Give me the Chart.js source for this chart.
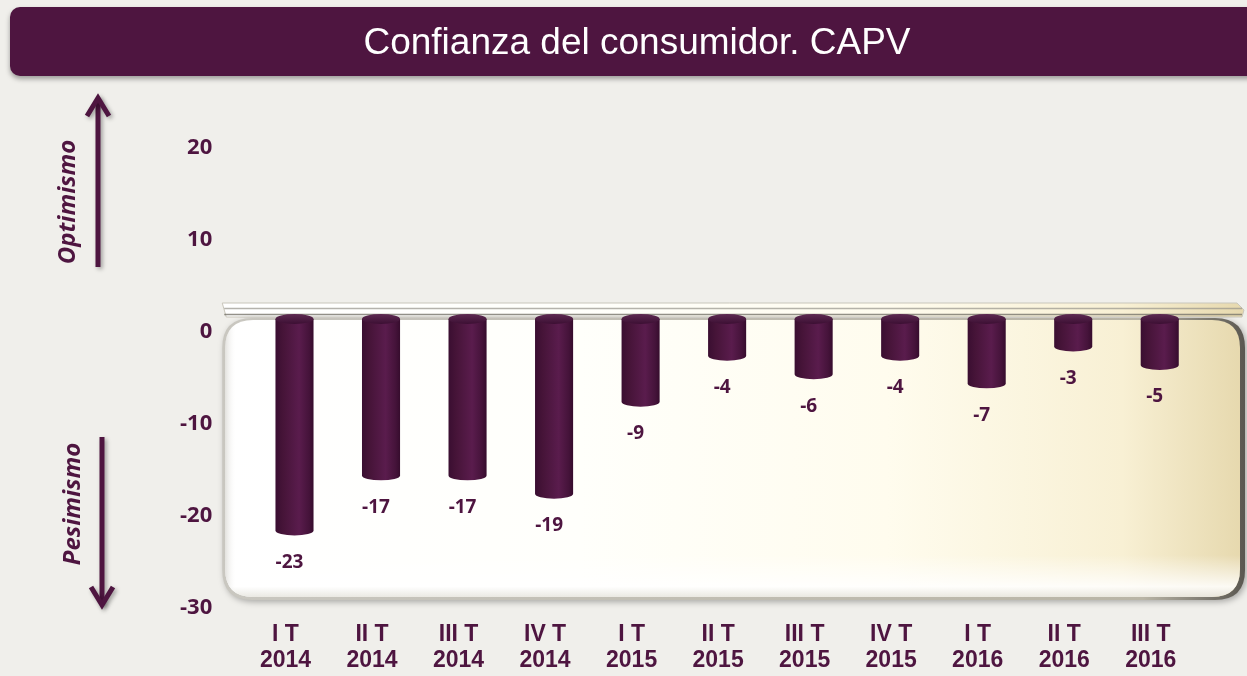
<!DOCTYPE html>
<html>
<head>
<meta charset="utf-8">
<script src="https://cdn.jsdelivr.net/npm/chart.js@4"></script>
<style>
  html, body { margin: 0; padding: 0; background: #f0efeb; overflow: hidden; }
  #wrap { position: relative; width: 1247px; height: 676px; }
  #title {
    position: absolute; left: 10px; top: 7px; width: 1254px; height: 69px;
    background: #4e1540; border-radius: 10px;
    box-shadow: 0 3px 5px rgba(0,0,0,0.35);
    color: #fff; font-family: "Liberation Sans", Arial, sans-serif; font-size: 37px;
    line-height: 69px; text-align: center;
  }
  canvas { position: absolute; left: 0; top: 0; }
</style>
</head>
<body>
<div id="wrap">
  <canvas id="myChart" width="1247" height="676"></canvas>
  <div id="title">Confianza del consumidor. CAPV</div>
</div>
<script>
// Data
const quarters = ['I T', 'II T', 'III T', 'IV T', 'I T', 'II T', 'III T', 'IV T', 'I T', 'II T', 'III T'];
const years = ['2014', '2014', '2014', '2014', '2015', '2015', '2015', '2015', '2016', '2016', '2016'];
const confidence = [-23, -17, -17, -19, -9, -4, -6, -4, -7, -3, -5];
const yTicks = [20, 10, 0, -10, -20, -30];

const purple = '#4e1540';
const labels = quarters.map((q, i) => [q, years[i]]);

// 3D look: bars sit a bit right and up from the axis
const shiftX = 9, shiftY = -13;

function roundRect(ctx, x, y, w, h, r) {
    ctx.beginPath();
    ctx.moveTo(x + r, y);
    ctx.lineTo(x + w - r, y);
    ctx.quadraticCurveTo(x + w, y, x + w, y + r);
    ctx.lineTo(x + w, y + h - r);
    ctx.quadraticCurveTo(x + w, y + h, x + w - r, y + h);
    ctx.lineTo(x + r, y + h);
    ctx.quadraticCurveTo(x, y + h, x, y + h - r);
    ctx.lineTo(x, y + r);
    ctx.quadraticCurveTo(x, y, x + r, y);
    ctx.closePath();
}

function panelGradient(ctx, left, right) {
    const g = ctx.createLinearGradient(left, 0, right, 0);
    g.addColorStop(0, '#ffffff');
    g.addColorStop(0.35, '#fffffb');
    g.addColorStop(0.65, '#fffcee');
    g.addColorStop(0.88, '#f8f0d4');
    g.addColorStop(1, '#e6d8ad');
    return g;
}

function drawArrow(ctx, x, yFrom, yTo) {
    const dir = yTo < yFrom ? -1 : 1;
    ctx.save();
    ctx.strokeStyle = purple;
    ctx.lineWidth = 5;
    ctx.shadowColor = 'rgba(0,0,0,0.35)';
    ctx.shadowBlur = 4;
    ctx.shadowOffsetX = 2;
    ctx.shadowOffsetY = 2;
    ctx.beginPath();
    ctx.moveTo(x, yFrom);
    ctx.lineTo(x, yTo - dir * 2);
    ctx.stroke();
    ctx.beginPath();
    ctx.moveTo(x - 11, yTo - dir * 20);
    ctx.lineTo(x, yTo - dir * 2);
    ctx.lineTo(x + 11, yTo - dir * 20);
    ctx.stroke();
    ctx.restore();
}

function drawSideWord(ctx, text, x, y) {
    ctx.save();
    ctx.translate(x, y);
    ctx.rotate(-Math.PI / 2);
    ctx.fillStyle = purple;
    ctx.font = 'italic 700 24px "Open Sans"';
    ctx.textAlign = 'center';
    ctx.textBaseline = 'middle';
    ctx.fillText(text, 0, 0);
    ctx.restore();
}

const decor = {
    id: 'decor',
    beforeDraw(chart) {
        const { ctx, chartArea, scales } = chart;
        const y0 = scales.y.getPixelForValue(0);
        ctx.save();
        ctx.fillStyle = '#f0efeb';
        ctx.fillRect(0, 0, chart.width, chart.height);

        // side arrows and words
        drawArrow(ctx, 98, 267, 96);
        drawSideWord(ctx, 'Optimismo', 68, 202);
        drawArrow(ctx, 102, 437, 607);
        drawSideWord(ctx, 'Pesimismo', 73, 504);

        // panel behind the bars
        const left = chartArea.left - 20, right = chartArea.right + 51;
        const top = y0 - 14, bottom = chartArea.bottom - 8;

        // top rim
        ctx.beginPath();
        ctx.moveTo(left, y0 - 29);
        ctx.lineTo(right - 8, y0 - 29);
        ctx.lineTo(right - 1, y0 - 22);
        ctx.lineTo(right - 3, y0 - 15);
        ctx.lineTo(left + 4, y0 - 15);
        ctx.closePath();
        ctx.fillStyle = panelGradient(ctx, left, right);
        ctx.fill();
        ctx.strokeStyle = '#c9c6bb';
        ctx.lineWidth = 1;
        ctx.stroke();
        [[y0 - 23.5, 'rgba(150,147,138,0.7)'], [y0 - 17.5, 'rgba(120,117,108,0.8)']].forEach(([yy, c]) => {
            ctx.beginPath();
            ctx.moveTo(left + 2, yy);
            ctx.lineTo(right - 3, yy);
            ctx.strokeStyle = c;
            ctx.lineWidth = 1.5;
            ctx.stroke();
        });

        // box with shadow
        ctx.save();
        ctx.shadowColor = 'rgba(0,0,0,0.3)';
        ctx.shadowBlur = 6;
        ctx.shadowOffsetX = 2;
        ctx.shadowOffsetY = 2;
        roundRect(ctx, left, top, right - left, bottom - top, 30);
        const ge = ctx.createLinearGradient(left, 0, right, 0);
        ge.addColorStop(0, '#c9c7c0');
        ge.addColorStop(0.9, '#b9b5a6');
        ge.addColorStop(1, '#5a5750');
        ctx.fillStyle = ge;
        ctx.fill();
        ctx.restore();

        roundRect(ctx, left + 3, top + 2, right - left - 8, bottom - top - 5, 28);
        ctx.fillStyle = panelGradient(ctx, left, right);
        ctx.fill();

        // soft bright band near the bottom
        const gv = ctx.createLinearGradient(0, bottom - 45, 0, bottom);
        gv.addColorStop(0, 'rgba(255,255,255,0)');
        gv.addColorStop(0.7, 'rgba(255,255,255,0.85)');
        gv.addColorStop(1, 'rgba(225,223,214,0.9)');
        ctx.fillStyle = gv;
        ctx.fill();

        // inner left edge shade
        const gl = ctx.createLinearGradient(left, 0, left + 14, 0);
        gl.addColorStop(0, 'rgba(205,203,196,0.9)');
        gl.addColorStop(1, 'rgba(255,255,255,0)');
        ctx.fillStyle = gl;
        ctx.fill();
        ctx.restore();
    },
    afterDatasetsDraw(chart) {
        const { ctx } = chart;
        ctx.save();
        ctx.translate(shiftX, shiftY);
        chart.getDatasetMeta(0).data.forEach((el, i) => {
            const w = el.width, rx = w / 2, ry = w * 0.13;
            const g = ctx.createLinearGradient(el.x - rx, 0, el.x + rx, 0);
            g.addColorStop(0, '#3a0e31');
            g.addColorStop(0.2, '#461438');
            g.addColorStop(0.62, '#5a1c4d');
            g.addColorStop(0.88, '#45133a');
            g.addColorStop(1, '#360c2d');
            // cylinder body with rounded bottom
            ctx.beginPath();
            ctx.moveTo(el.x - rx, el.base);
            ctx.lineTo(el.x - rx, el.y);
            ctx.ellipse(el.x, el.y, rx, ry, 0, Math.PI, 0, true);
            ctx.lineTo(el.x + rx, el.base);
            ctx.closePath();
            ctx.fillStyle = g;
            ctx.fill();
            // top cap
            const gt = ctx.createLinearGradient(0, el.base - ry, 0, el.base + ry);
            gt.addColorStop(0, '#5e2a52');
            gt.addColorStop(1, '#3c0f33');
            ctx.beginPath();
            ctx.ellipse(el.x, el.base, rx, ry, 0, 0, Math.PI * 2);
            ctx.fillStyle = gt;
            ctx.fill();
            // value label
            ctx.fillStyle = purple;
            ctx.font = '700 19px "Open Sans"';
            ctx.textAlign = 'center';
            ctx.textBaseline = 'middle';
            ctx.fillText(String(confidence[i]), el.x - 5, el.y + 32);
        });
        ctx.restore();
    }
};

const ctx = document.getElementById('myChart').getContext('2d');

new Chart(ctx, {
    type: 'bar',
    data: {
        labels: labels,
        datasets: [{
            data: confidence,
            backgroundColor: 'rgba(0,0,0,0)',
            borderWidth: 0,
            barPercentage: 0.88,
            categoryPercentage: 0.5
        }]
    },
    options: {
        responsive: false,
        animation: false,
        devicePixelRatio: 1,
        layout: { padding: { top: 148, left: 150, right: 53, bottom: 0 } },
        plugins: {
            legend: { display: false },
            tooltip: { enabled: false }
        },
        scales: {
            y: {
                min: -30,
                max: 20,
                afterBuildTicks: scale => { scale.ticks = yTicks.map(v => ({ value: v })); },
                grid: { display: false, drawTicks: false },
                border: { display: false },
                ticks: {
                    color: purple,
                    font: { family: 'Open Sans', weight: '700', size: 22 },
                    padding: 30
                }
            },
            x: {
                afterFit: scale => { scale.height = 68; },
                grid: { display: false, drawTicks: false },
                border: { display: false },
                ticks: {
                    color: purple,
                    font: { family: 'Liberation Sans', weight: 'bold', size: 23, lineHeight: 1.13 },
                    padding: 14,
                    maxRotation: 0,
                    autoSkip: false
                }
            }
        }
    },
    plugins: [decor]
});
</script>
</body>
</html>
